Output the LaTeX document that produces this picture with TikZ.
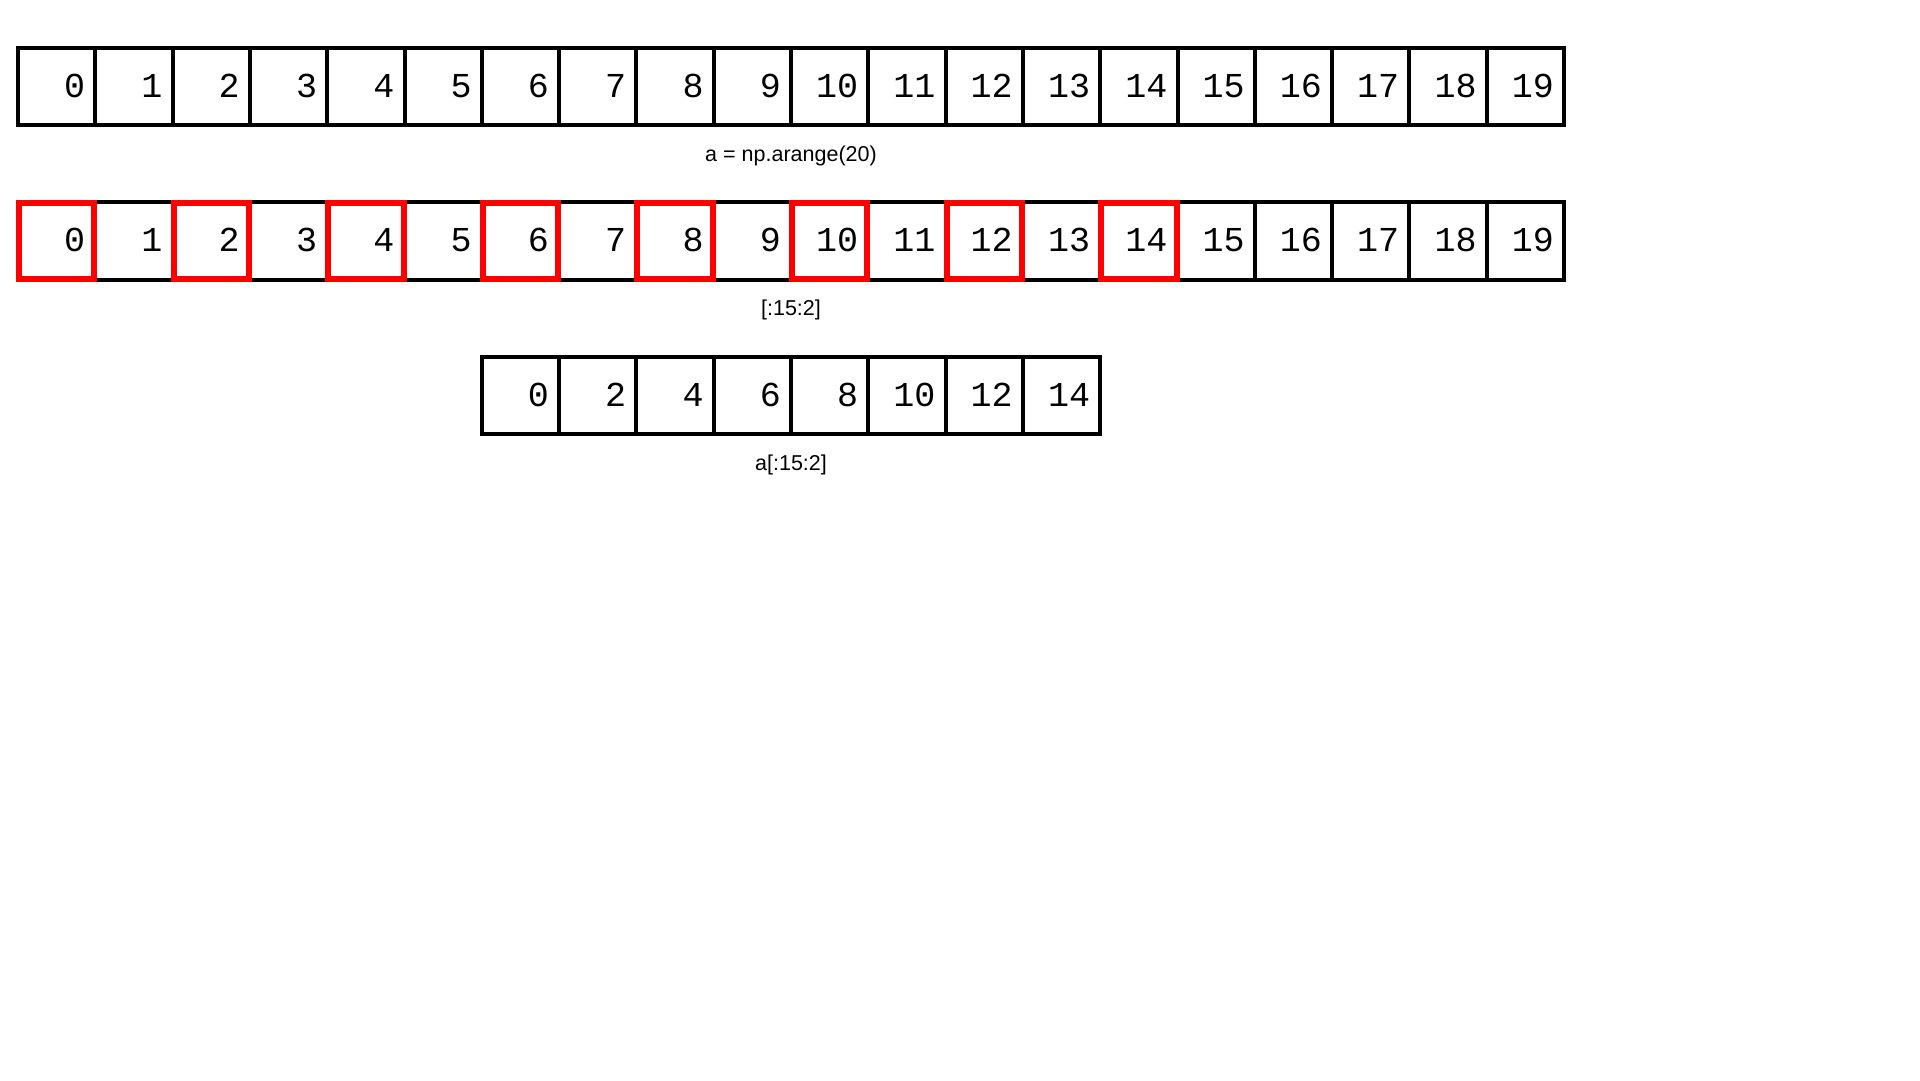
\documentclass[tikz,border=0pt]{standalone}
\usepackage{fontspec}
\setmainfont{Liberation Sans}
\newfontfamily\cellfont{Liberation Mono}
\tikzset{
  cellbox/.style={draw=black, line width=4pt, minimum width=77.3pt, minimum height=77.3pt, inner sep=0pt, outer sep=0pt},
  digit/.style={anchor=base east, inner sep=0pt, font=\cellfont\fontsize{35}{40}\selectfont},
  caption/.style={inner sep=0pt, font=\fontsize{21.5}{25}\selectfont},
  redbox/.style={draw=red, line width=6pt},
}
\begin{document}
\begin{tikzpicture}[x=1pt,y=-1pt]
\useasboundingbox (0,0) rectangle (1920,1080);
% row 1: a = np.arange(20)
\foreach \i in {0,...,19} {
  \node[cellbox] (ra\i) at ({18+77.3*(\i+0.5)}, 86.65) {};
  \node[digit] (da\i) at ([xshift=-10pt,yshift=28.3pt]ra\i.south east) {\i};
}
\node[caption] (capa) at (791, 155.5) {a = np.arange(20)};
% row 2: [:15:2]
\foreach \i in {0,...,19} {
  \node[cellbox] (rb\i) at ({18+77.3*(\i+0.5)}, 241) {};
  \node[digit] (db\i) at ([xshift=-10pt,yshift=28.3pt]rb\i.south east) {\i};
}
\foreach \i in {0,2,...,14} {
  \draw[redbox] ([shift={(1,1)}]rb\i.north west) rectangle ([shift={(-1,-1)}]rb\i.south east);
}
\node[caption] (capb) at (791, 310) {[:15:2]};
% row 3: a[:15:2]
\foreach \v [count=\j from 0] in {0,2,...,14} {
  \node[cellbox] (rc\j) at ({18+77.3*(6+\j+0.5)}, 395.7) {};
  \node[digit] (dc\j) at ([xshift=-10pt,yshift=28.3pt]rc\j.south east) {\v};
}
\node[caption] (capc) at (791, 464.5) {a[:15:2]};
\end{tikzpicture}
\end{document}
